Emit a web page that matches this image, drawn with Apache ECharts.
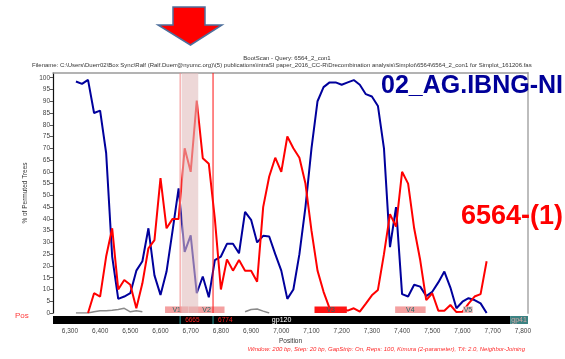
<!DOCTYPE html>
<html>
<head>
<meta charset="utf-8">
<script src="https://cdn.jsdelivr.net/npm/echarts@6.0.0/dist/echarts.min.js"></script>
<style>
  html, body {margin: 0; padding: 0; background: #fff;}
  #chart {width: 565px; height: 359px;}
</style>
</head>
<body>
<div id="chart"></div>
<script>
// window centres (bp, HXB2 numbering)
const positions = [
  6320, 6340, 6360, 6380, 6400, 6420, 6440, 6460, 6480, 6500,
  6520, 6540, 6560, 6580, 6600, 6620, 6640, 6660, 6680, 6700,
  6720, 6740, 6760, 6780, 6800, 6820, 6840, 6860, 6880, 6900,
  6920, 6940, 6960, 6980, 7000, 7020, 7040, 7060, 7080, 7100,
  7120, 7140, 7160, 7180, 7200, 7220, 7240, 7260, 7280, 7300,
  7320, 7340, 7360, 7380, 7400, 7420, 7440, 7460, 7480, 7500,
  7520, 7540, 7560, 7580, 7600, 7620, 7640, 7660, 7680
];
// % of permuted trees, 02_AG.IBNG-NI
const agIbng = [
  98.4, 97.4, 99.1, 85, 86, 68, 24, 6, 7, 8.4,
  18, 22, 36, 16, 7.7, 17.6, 35, 53, 26, 33,
  8.4, 15.5, 6.7, 22.5, 24, 29.4, 29.4, 25.4, 43, 39.6,
  30, 32.8, 32.5, 25, 18, 6, 10, 25, 45, 70,
  90, 96, 98, 98, 97, 98, 99, 97, 93, 92,
  88, 70, 28, 45, 8, 7, 12, 11.2, 7.2, 9,
  13, 17.6, 10.8, 2, 4.8, 6.3, 5.5, 4.1, 0
];
// % of permuted trees, 6564-(1)
const ref6564 = [
  '-', '-', 0, 8.4, 7, 24, 36, 10, 14, 12,
  2, 12.6, 27.5, 31, 57.3, 36, 40, 40, 70, 60,
  90.3, 65.8, 63.4, 40, 10, 22.8, 18, 22.5, 18, 18,
  13.3, 45, 58, 66, 60, 75, 70, 66, 55, 35,
  18, 9, 2, 1, 2, 1, 2, 0.6, 4, 7.5,
  9.8, 25, 42, 36.7, 60, 55, 36, 22.5, 5.5, 8.4,
  1, 1, 3.4, 0.4, 0.5, 4, 7, 8, 22
];
// third reference, stays near zero
const otherRef = [
  0, 0, 0, 0.5, 1, 1, 1.2, 1.5, 2, 0.5,
  1, 0.5, '-', '-', '-', '-', '-', '-', '-', '-',
  '-', '-', '-', '-', '-', '-', '-', '-', 0.5, 1.5,
  1.7, 0.8, 0
];
const yTicks = [0, 5, 10, 15, 20, 25, 30, 35, 40, 45, 50, 55, 60, 65, 70, 75, 80, 85, 90, 95, 100];
const xTicks = [6300, 6400, 6500, 6600, 6700, 6800, 6900, 7000, 7100, 7200, 7300, 7400, 7500, 7600, 7700, 7800];
const vRegions = [[6615, 6692, 'V1'], [6693, 6812, 'V2'], [7110, 7217, 'V3'], [7377, 7478, 'V4'], [7602, 7634, 'V5']];
const genes = [[6225, 7758, 'gp120'], [7758, 8795, 'gp41']];
const breakpoints = [6665, 6774];
const bandRange = [6670, 6725];

const X_MIN = 6244;
const X_MAX = 7817;
const FONT = 'Liberation Sans, Arial, sans-serif';

const chart = echarts.init(document.getElementById('chart'));

const pair = arr => arr.map((v, i) => [positions[i], v]);

function renderV(params, api) {
  const s = api.coord([api.value(0), 2.8]);
  const e = api.coord([api.value(1), 0]);
  const name = vRegions[params.dataIndex][2];
  const fill = name === 'V3' ? '#ff1414' : (name === 'V5' ? '#f2b6b6' : '#f4a0a0');
  return {
    type: 'group',
    children: [
      {type: 'rect', shape: {x: s[0], y: s[1], width: e[0] - s[0], height: e[1] - s[1]}, style: {fill}},
      {type: 'text', x: (s[0] + e[0]) / 2, y: (s[1] + e[1]) / 2 + 0.5,
        style: {text: name, fill: '#1d6b6b', font: '7px ' + FONT, align: 'center', verticalAlign: 'middle'}}
    ]
  };
}

function renderGene(params, api) {
  const cs = params.coordSys;
  const x0 = Math.max(api.coord([api.value(0), 1])[0], cs.x);
  const x1 = Math.min(api.coord([api.value(1), 1])[0], cs.x + cs.width);
  const top = api.coord([X_MIN, 1])[1];
  const bottom = api.coord([X_MIN, 0])[1];
  const name = genes[params.dataIndex][2];
  const isGp41 = name === 'gp41';
  return {
    type: 'group',
    children: [
      {type: 'rect', shape: {x: x0, y: top, width: x1 - x0, height: bottom - top},
        style: {fill: isGp41 ? '#3b8282' : '#000'}},
      {type: 'text', x: (x0 + x1) / 2, y: (top + bottom) / 2 + 0.5,
        style: {text: name, fill: isGp41 ? '#d6a6a6' : '#fff', font: '7px ' + FONT, align: 'center', verticalAlign: 'middle'}}
    ]
  };
}

function renderCut(params, api) {
  const a = api.coord([api.value(0), 1]);
  const b = api.coord([api.value(0), 0]);
  return {
    type: 'group',
    children: [
      {type: 'line', shape: {x1: a[0], y1: a[1], x2: b[0], y2: b[1]}, style: {stroke: '#2aa0a0', lineWidth: 1}},
      {type: 'text', x: a[0] + 5, y: (a[1] + b[1]) / 2 + 0.5,
        style: {text: String(api.value(0)), fill: '#ff2020', font: '6.5px ' + FONT, verticalAlign: 'middle'}}
    ]
  };
}

function renderBreakLine(params, api) {
  const a = api.coord([api.value(0), 102]);
  const b = api.coord([api.value(0), 0]);
  return {
    type: 'line',
    shape: {x1: a[0], y1: a[1], x2: b[0], y2: b[1]},
    style: {stroke: params.dataIndex === 0 ? '#f28c8c' : '#ff1010', lineWidth: 1}
  };
}

function renderBand(params, api) {
  const a = api.coord([api.value(0), 102]);
  const b = api.coord([api.value(1), 0]);
  return {
    type: 'rect',
    shape: {x: a[0], y: a[1], width: b[0] - a[0], height: b[1] - a[1]},
    style: {fill: 'rgba(225,188,188,0.6)'}
  };
}

chart.setOption({
  animation: false,
  textStyle: {fontFamily: FONT},
  grid: [
    {left: 53, right: 37, top: 73, height: 240},
    {left: 53, right: 37, top: 316, height: 8}
  ],
  xAxis: [
    {
      gridIndex: 0, type: 'value', min: X_MIN, max: X_MAX, position: 'top',
      axisLine: {show: true, onZero: false, lineStyle: {color: '#9a9a9a', width: 1.5}},
      axisTick: {show: false}, axisLabel: {show: false}, splitLine: {show: false}
    },
    {
      gridIndex: 1, type: 'value', min: X_MIN, max: X_MAX, position: 'bottom',
      axisLine: {show: false, onZero: false}, axisTick: {show: false}, splitLine: {show: false},
      axisLabel: {
        customValues: xTicks, fontSize: 6.5, color: '#444', margin: 4,
        formatter: v => v.toLocaleString('en-US')
      },
      name: 'Position', nameLocation: 'middle', nameGap: 14,
      nameTextStyle: {fontSize: 6.5, color: '#333'}
    }
  ],
  yAxis: [
    {
      gridIndex: 0, type: 'value', min: 0, max: 102,
      name: '% of Permuted Trees', nameLocation: 'middle', nameGap: 16,
      nameTextStyle: {fontSize: 6.5, color: '#333'},
      axisLine: {show: true, onZero: false, lineStyle: {color: '#111', width: 1.2}},
      axisTick: {show: true, length: 3, customValues: yTicks, lineStyle: {color: '#555'}},
      axisLabel: {customValues: yTicks, fontSize: 6.5, color: '#444', margin: 3},
      splitLine: {show: false}
    },
    {
      gridIndex: 0, type: 'value', min: 0, max: 102, position: 'right',
      axisLine: {show: true, onZero: false, lineStyle: {color: '#bdbdbd', width: 2}},
      axisTick: {show: false}, axisLabel: {show: false}, splitLine: {show: false}
    },
    {gridIndex: 1, type: 'value', min: 0, max: 1, show: false}
  ],
  series: [
    {
      name: 'other', type: 'line', xAxisIndex: 0, yAxisIndex: 0, z: 2,
      data: pair(otherRef), symbol: 'none',
      lineStyle: {color: '#8a8a8a', width: 1.5}
    },
    {
      name: '02_AG.IBNG-NI', type: 'line', xAxisIndex: 0, yAxisIndex: 0, z: 3,
      data: pair(agIbng), symbol: 'none',
      lineStyle: {color: '#00009c', width: 2}
    },
    {
      name: '6564-(1)', type: 'line', xAxisIndex: 0, yAxisIndex: 0, z: 4,
      data: pair(ref6564), symbol: 'none',
      lineStyle: {color: '#ff0000', width: 2}
    },
    {
      type: 'custom', xAxisIndex: 0, yAxisIndex: 0, z: 6,
      data: vRegions.map(r => [r[0], r[1]]), renderItem: renderV, silent: true
    },
    {
      type: 'custom', xAxisIndex: 0, yAxisIndex: 0, z: 10,
      data: [bandRange], renderItem: renderBand, silent: true
    },
    {
      type: 'custom', xAxisIndex: 0, yAxisIndex: 0, z: 11,
      data: breakpoints.map(b => [b]), renderItem: renderBreakLine, silent: true
    },
    {
      type: 'custom', xAxisIndex: 1, yAxisIndex: 2, z: 5,
      data: genes.map(g => [g[0], g[1]]), renderItem: renderGene, silent: true
    },
    {
      type: 'custom', xAxisIndex: 1, yAxisIndex: 2, z: 6,
      data: breakpoints.map(b => [b]), renderItem: renderCut, silent: true
    }
  ],
  graphic: [
    {
      type: 'polygon', z: 20,
      shape: {points: [[173, 7], [205, 7], [205, 25], [222, 25], [190.5, 45], [158, 25], [173, 25]]},
      style: {fill: '#ff0000', stroke: '#4d6f9c', lineWidth: 1.5}
    },
    {
      type: 'text', x: 287, y: 58,
      style: {text: 'BootScan - Query: 6564_2_con1', font: '6px ' + FONT, fill: '#333', align: 'center', verticalAlign: 'middle'}
    },
    {
      type: 'text', x: 32, y: 65.5,
      style: {
        text: 'Filename: C:\\Users\\Duerr02\\Box Sync\\Ralf (Ralf.Duerr@nyumc.org)\\(5) publications\\intraSI paper_2016_CC-R\\Drecombination analysis\\Simplot\\6564\\6564_2_con1 for Simplot_161206.fas',
        font: '6px ' + FONT, fill: '#333', align: 'left', verticalAlign: 'middle'
      }
    },
    {
      type: 'text', x: 563, y: 86, z: 20,
      style: {text: '02_AG.IBNG-NI', font: 'bold 25px ' + FONT, fill: '#000099', align: 'right', verticalAlign: 'middle'}
    },
    {
      type: 'text', x: 563, y: 217, z: 20,
      style: {text: '6564-(1)', font: 'bold 27px ' + FONT, fill: '#ff0000', align: 'right', verticalAlign: 'middle'}
    },
    {
      type: 'text', x: 15, y: 316,
      style: {text: 'Pos', font: '8px ' + FONT, fill: '#ff3b3b', align: 'left', verticalAlign: 'middle'}
    },
    {
      type: 'text', x: 525, y: 349,
      style: {
        text: 'Window: 200 bp, Step: 20 bp, GapStrip: On, Reps: 100, Kimura (2-parameter), T/t: 2.0, Neighbor-Joining',
        font: 'italic 6px ' + FONT, fill: '#ff2a2a', align: 'right', verticalAlign: 'middle'
      }
    }
  ]
});
</script>
</body>
</html>
